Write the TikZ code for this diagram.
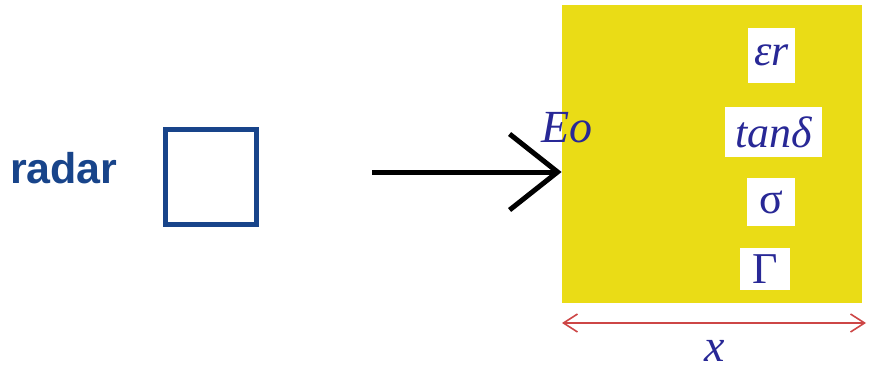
\documentclass[tikz,border=0pt]{standalone}
\usepackage{fontspec}
\setmainfont{Liberation Serif}
\newfontfamily\radarfont{Liberation Sans}
\usetikzlibrary{arrows.meta, positioning}
\definecolor{radarblue}{RGB}{24,68,138}
\definecolor{symblue}{RGB}{40,40,150}
\definecolor{slabyellow}{RGB}{234,220,22}
\definecolor{dimred}{RGB}{205,70,70}

\begin{document}
\begin{tikzpicture}[x=0.5pt, y=-0.5pt,
    antenna/.style={rectangle, draw=radarblue, line width=2.5pt, minimum width=45.5pt, minimum height=47.5pt, inner sep=0pt},
    slab/.style={rectangle, fill=slabyellow, minimum width=150pt, minimum height=149pt, inner sep=0pt},
    param/.style={rectangle, fill=white, text=symblue, font=\fontsize{22}{24}\selectfont, inner sep=0pt},
    beam/.style={line width=2.5pt, -{Straight Barb[length=24pt, width=38pt, line width=2.5pt]}},
    dim/.style={dimred, line width=0.8pt, {Straight Barb[length=7pt, width=9pt]}-{Straight Barb[length=7pt, width=9pt]}}
]
    \useasboundingbox (0,0) rectangle (871,369);

    % radar and its antenna
    \node[antenna] (box) at (211,177) {};
    \node[anchor=base east, inner sep=0pt, text=radarblue, font=\radarfont\bfseries\fontsize{21.5}{24}\selectfont] (radar) at (118,183) {radar};

    % the material slab
    \node[slab] (ground) at (712,154) {};
    \node[param, minimum width=23.5pt, minimum height=27.5pt] (eps) at (771.5,55.5) {\itshape εr};
    \node[param, minimum width=48.5pt, minimum height=25pt] (tan) at (773.5,132) {\itshape tanδ};
    \node[param, minimum width=24pt, minimum height=24pt] (sig) at (771,202) {σ};
    \node[param, minimum width=25pt, minimum height=21pt] (gam) at (765,269) {Γ};
    \node[inner sep=0pt, text=symblue, font=\itshape\fontsize{23}{25}\selectfont] (eo) at (567,128) {Eo};

    % incident wave
    \coordinate (wave) at (372,172);
    \draw[beam] (wave) -- (ground.west |- wave);

    % thickness
    \coordinate (dimL) at (562,323);
    \coordinate (dimR) at (866,323);
    \draw[dim] (dimL) -- (dimR);
    \node[inner sep=0pt, text=symblue, font=\itshape\fontsize{23}{25}\selectfont] (width) at (715,351) {x};
\end{tikzpicture}
\end{document}
